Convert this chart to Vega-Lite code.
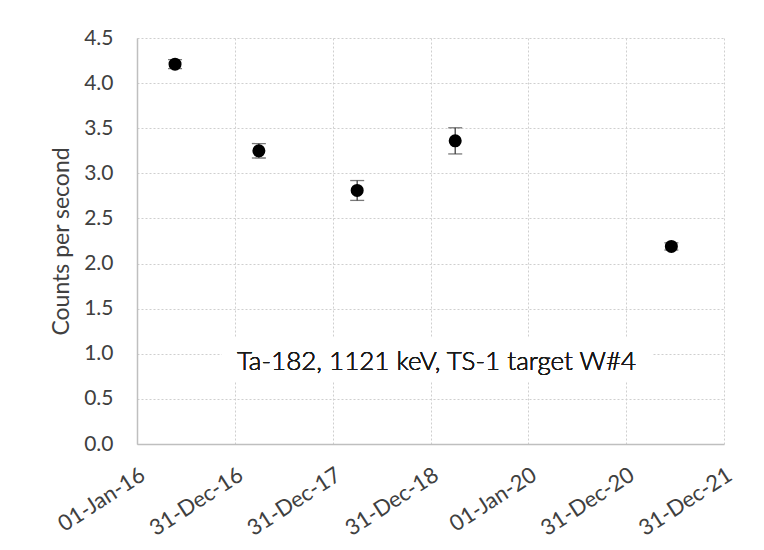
{
  "$schema": "https://vega.github.io/schema/vega-lite/v6.json",
  "width": 587,
  "height": 406,
  "autosize": {"type": "none"},
  "padding": {"left": 137, "top": 38, "right": 40, "bottom": 106},
  "background": "white",
  "config": {
    "view": {"stroke": null},
    "font": "Lato",
    "axis": {
      "labelColor": "#404040",
      "titleColor": "#404040",
      "labelFont": "Lato",
      "titleFont": "Lato",
      "gridColor": "#cfcfcf",
      "gridDash": [2, 2],
      "gridWidth": 1,
      "domainColor": "#bfbfbf",
      "domainWidth": 1.5,
      "ticks": false
    }
  },
  "data": {
    "values": [
      {"date": "2016-05-22", "cps": 4.21, "lo": 4.16, "hi": 4.26},
      {"date": "2017-03-31", "cps": 3.25, "lo": 3.17, "hi": 3.33},
      {"date": "2018-04-02", "cps": 2.81, "lo": 2.70, "hi": 2.92},
      {"date": "2019-04-03", "cps": 3.36, "lo": 3.215, "hi": 3.505},
      {"date": "2021-06-18", "cps": 2.19, "lo": 2.15, "hi": 2.23}
    ]
  },
  "encoding": {
    "x": {
      "field": "date",
      "type": "temporal",
      "scale": {
        "type": "utc",
        "domain": [
          {"year": 2016, "month": 1, "date": 1, "utc": true},
          {"year": 2021, "month": 12, "date": 31, "hours": 12, "utc": true}
        ],
        "nice": false
      },
      "axis": {
        "title": null,
        "grid": true,
        "values": [
          {"year": 2016, "month": 1, "date": 1, "utc": true},
          {"year": 2016, "month": 12, "date": 31, "hours": 6, "utc": true},
          {"year": 2017, "month": 12, "date": 31, "hours": 12, "utc": true},
          {"year": 2018, "month": 12, "date": 31, "hours": 18, "utc": true},
          {"year": 2020, "month": 1, "date": 1, "utc": true},
          {"year": 2020, "month": 12, "date": 31, "hours": 6, "utc": true},
          {"year": 2021, "month": 12, "date": 31, "hours": 12, "utc": true}
        ],
        "labelExpr": "utcFormat(datum.value, '%d-%b-%y')",
        "labelAngle": -33,
        "labelAlign": "right",
        "labelBaseline": "top",
        "labelPadding": 20,
        "labelFontSize": 22,
        "labelOverlap": false,
        "labelBound": false
      }
    },
    "y": {
      "field": "cps",
      "type": "quantitative",
      "scale": {"domain": [0, 4.5], "nice": false, "zero": false},
      "axis": {
        "title": "Counts per second",
        "grid": true,
        "titleFontSize": 23,
        "titleFontWeight": "normal",
        "titlePadding": 10,
        "values": [0, 0.5, 1, 1.5, 2, 2.5, 3, 3.5, 4, 4.5],
        "format": ".1f",
        "labelFontSize": 21,
        "labelPadding": 24
      }
    }
  },
  "layer": [
    {
      "mark": {"type": "rect", "fill": "white"},
      "encoding": {
        "x": {"datum": {"year": 2016, "month": 11, "date": 13, "utc": true}, "type": "temporal"},
        "x2": {"datum": {"year": 2021, "month": 4, "date": 10, "utc": true}},
        "y": {"datum": 0.687, "type": "quantitative"},
        "y2": {"datum": 1.186}
      }
    },
    {
      "mark": {"type": "text", "fontSize": 26, "font": "Lato", "fontWeight": 300, "color": "#1a1a1a", "align": "center", "baseline": "alphabetic"},
      "encoding": {
        "x": {"datum": {"year": 2019, "month": 1, "date": 23, "utc": true}, "type": "temporal"},
        "y": {"datum": 0.82, "type": "quantitative"},
        "text": {"value": "Ta-182, 1121 keV, TS-1 target W#4"}
      }
    },
    {
      "mark": {"type": "rule", "color": "#404040", "strokeWidth": 1.3},
      "encoding": {
        "y": {"field": "lo", "type": "quantitative"},
        "y2": {"field": "hi"}
      }
    },
    {
      "mark": {"type": "tick", "orient": "horizontal", "color": "#404040", "size": 14, "thickness": 1.3},
      "encoding": {
        "y": {"field": "lo", "type": "quantitative"}
      }
    },
    {
      "mark": {"type": "tick", "orient": "horizontal", "color": "#404040", "size": 14, "thickness": 1.3},
      "encoding": {
        "y": {"field": "hi", "type": "quantitative"}
      }
    },
    {
      "mark": {"type": "point", "shape": "circle", "filled": true, "color": "black", "opacity": 1, "size": 170}
    }
  ]
}
